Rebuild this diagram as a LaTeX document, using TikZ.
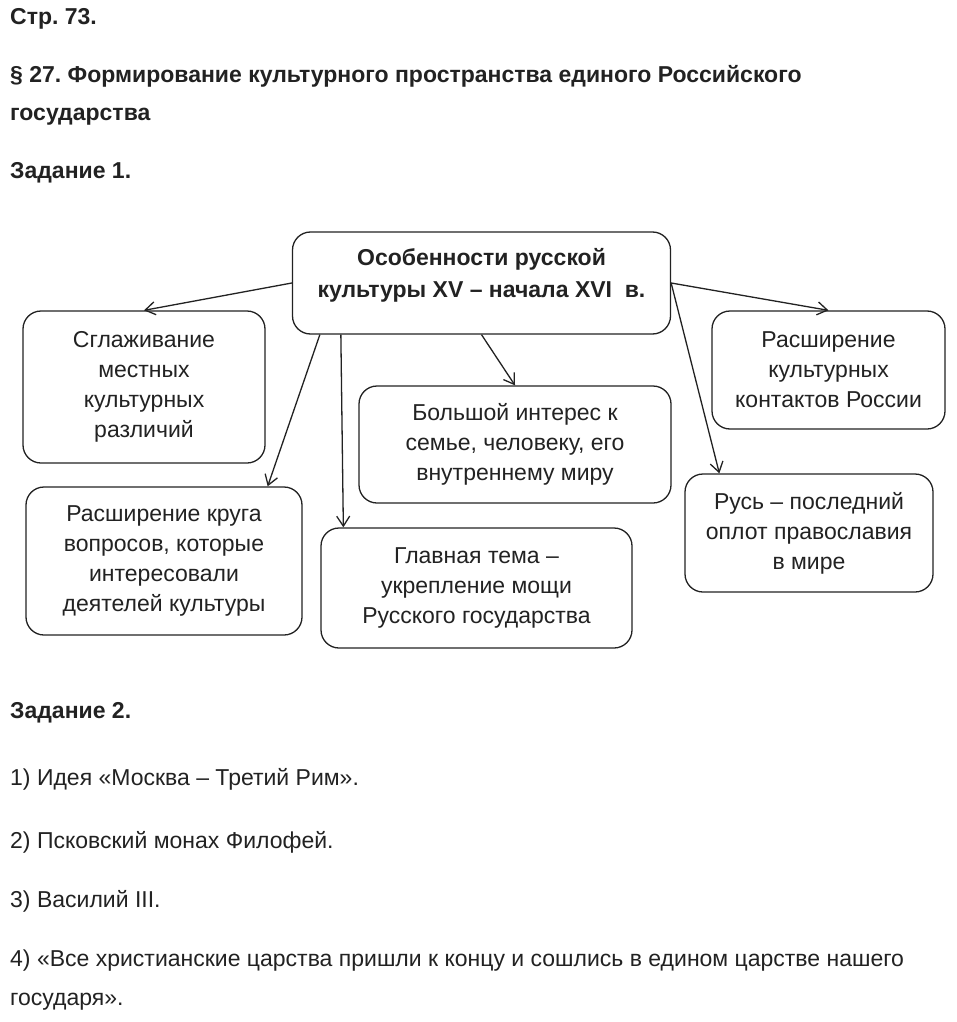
\documentclass[tikz,border=0pt]{standalone}
\usepackage{fontspec}
\setmainfont{Liberation Sans}
\usepackage{xcolor}
\usetikzlibrary{arrows.meta, positioning}
\frenchspacing

\definecolor{ink}{HTML}{222222}

\tikzset{
  >={Straight Barb[length=10pt,width=13pt]},
  blockbox/.style={draw=ink, line width=1.3pt, rounded corners=18pt, align=center, text=ink,
    font=\fontsize{23}{30}\selectfont, inner sep=0pt},
  mainbox/.style={blockbox, font=\bfseries\fontsize{23}{32}\selectfont},
  plainline/.style={anchor=base west, text=ink, inner sep=0pt, font=\fontsize{23}{26}\selectfont},
  headline/.style={plainline, font=\bfseries\fontsize{23}{26}\selectfont},
  link/.style={->, draw=ink, line width=1.3pt}
}

\begin{document}
\begin{tikzpicture}[x=1pt, y=-1pt]
    \useasboundingbox[fill=white] (0,0) rectangle (957,1022);

    % Headings
    \node[headline] (page) at (10,25) {Стр. 73.};
    \node[headline] (para) at (10,83) {§ 27. Формирование культурного пространства единого Российского};
    \node[headline] (parb) at (10,121) {государства};
    \node[headline] (taska) at (10,178) {Задание 1.};

    % Scheme
    \node[mainbox, minimum width=378pt, minimum height=102pt] (main) at (481.5,283) {};
    \node[text=ink, align=center, inner sep=0pt, font=\bfseries\fontsize{23}{32}\selectfont] (mainlabel) at (481.5,275)
      {Особенности русской\\культуры XV – начала XVI\ \ в.};

    \node[blockbox, minimum width=242pt, minimum height=152pt] (smooth) at (144,387)
      {Сглаживание\\местных\\культурных\\различий};
    \node[blockbox, minimum width=312pt, minimum height=117pt] (interest) at (515,444.5)
      {Большой интерес к\\семье, человеку, его\\внутреннему миру};
    \node[blockbox, minimum width=233pt, minimum height=118pt] (contacts) at (828.5,370)
      {Расширение\\культурных\\контактов России};
    \node[blockbox, minimum width=276pt, minimum height=148pt] (questions) at (164,561)
      {Расширение круга\\вопросов, которые\\интересовали\\деятелей культуры};
    \node[blockbox, minimum width=311pt, minimum height=120pt] (theme) at (476.5,588)
      {Главная тема –\\укрепление мощи\\Русского государства};
    \node[blockbox, minimum width=248pt, minimum height=118pt] (rus) at (809,533)
      {Русь – последний\\оплот православия\\в мире};

    % Arrows
    \draw[link] (main.west) -- (smooth.north);
    \draw[link] ([xshift=28pt]main.south west) -- ([xshift=-35pt]questions.north east);
    \draw[link] ([xshift=49pt]main.south west) -- ([xshift=23pt]theme.north west);
    \draw[link] (main.south) -- (interest.north);
    \draw[link] (main.east) -- (contacts.north);
    \draw[link] (main.east) -- ([xshift=35pt]rus.north west);

    % Task 2
    \node[headline] (taskb) at (10,718) {Задание 2.};
    \node[plainline] (ansa) at (10,785) {1) Идея «Москва – Третий Рим».};
    \node[plainline] (ansb) at (10,848) {2) Псковский монах Филофей.};
    \node[plainline] (ansc) at (10,907) {3) Василий III.};
    \node[plainline] (ansd) at (10,966) {4) «Все христианские царства пришли к концу и сошлись в едином царстве нашего};
    \node[plainline] (anse) at (10,1005) {государя».};
\end{tikzpicture}
\end{document}
